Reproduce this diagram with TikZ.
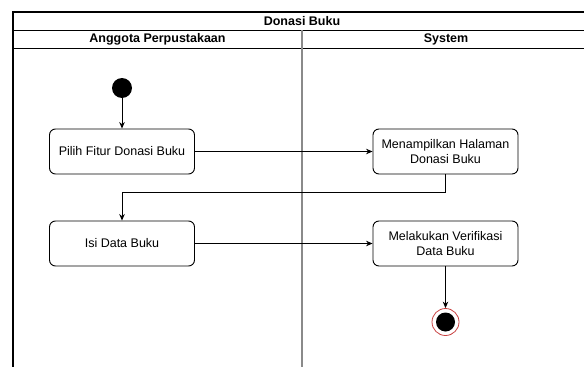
\documentclass[tikz,border=0pt]{standalone}
\usepackage{fontspec}
\setmainfont{Liberation Sans}
\usetikzlibrary{arrows.meta}
\definecolor{lanegray}{HTML}{8A8A8A}
\definecolor{endring}{HTML}{C84040}
\tikzset{
  action/.style={draw=black, line width=0.9pt, rounded corners=6pt, fill=white,
    minimum width=145pt, minimum height=45pt, align=center,
    font=\fontsize{12.5}{15}\selectfont, inner sep=2pt},
  flow/.style={draw=black, line width=0.9pt, -{Stealth[length=6.5pt,width=5.5pt]}},
  headtext/.style={font=\fontsize{12.5}{15}\selectfont\bfseries},
}
\begin{document}
\begin{tikzpicture}[x=1pt,y=-1pt]
  \useasboundingbox (0,0) rectangle (584,367);
  \clip (0,0) rectangle (584,367);
  \fill[white] (0,0) rectangle (584,367);

  % pool frame and lane headers
  \draw[line width=0.9pt] (13,30) -- (600,30);
  \draw[line width=0.9pt] (13,48) -- (600,48);
  \draw[lanegray, line width=1.5pt] (302,30) -- (302,380);
  \draw[line width=2.2pt] (13,380) -- (13,12) -- (600,12);
  \node[headtext] (title) at (302,21) {Donasi Buku};
  \node[headtext] (laneA) at (157.5,39.5) {Anggota Perpustakaan};
  \node[headtext] (laneB) at (446,39.5) {System};

  % activity nodes
  \node[circle, fill=black, minimum size=20pt, inner sep=0pt] (start) at (122,88) {};
  \node[action] (pilih) at (122,151.5) {Pilih Fitur Donasi Buku};
  \node[action] (tampil) at (445.5,151.5) {Menampilkan Halaman\\Donasi Buku};
  \node[action] (isi) at (122,243.5) {Isi Data Buku};
  \node[action] (verif) at (445.5,243.5) {Melakukan Verifikasi\\Data Buku};
  \node[circle, draw=endring, line width=0.8pt, fill=white, minimum size=27pt, inner sep=0pt] (end) at (445.5,322) {};
  \node[circle, fill=black, minimum size=19pt, inner sep=0pt] (endcore) at (end.center) {};

  % control flow
  \coordinate (bend1) at (445.5,192);
  \coordinate (bend2) at (122,192);
  \draw[flow] (start) -- (pilih);
  \draw[flow] (pilih) -- (tampil);
  \draw[flow] (tampil.south) -- (bend1) -- (bend2) -- (isi.north);
  \draw[flow] (isi) -- (verif);
  \draw[flow] (verif) -- (end);
\end{tikzpicture}
\end{document}
